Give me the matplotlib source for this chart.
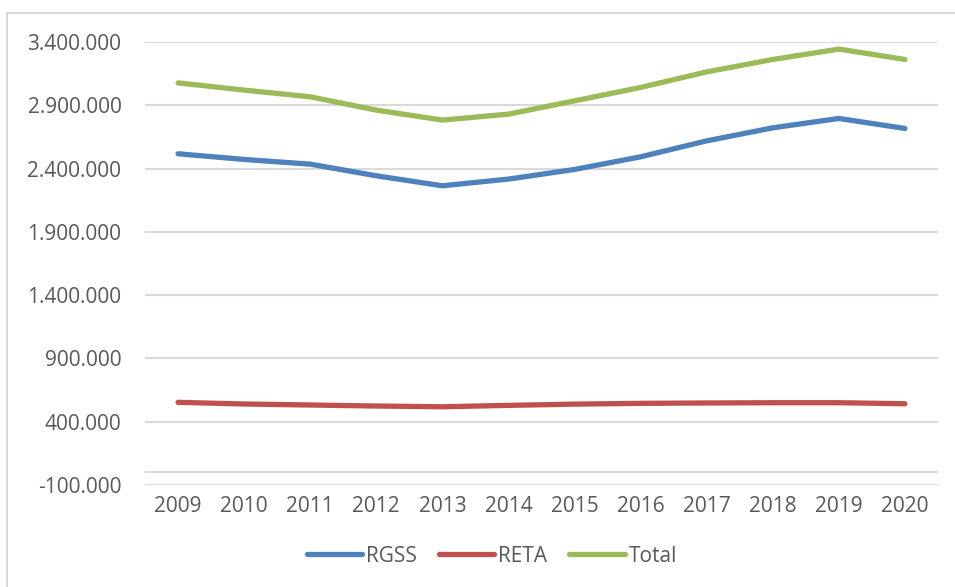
import matplotlib
matplotlib.use("Agg")
import matplotlib.pyplot as plt
from matplotlib.patches import Rectangle
from matplotlib.ticker import FuncFormatter, MultipleLocator

years = ["2009", "2010", "2011", "2012", "2013", "2014", "2015", "2016", "2017", "2018", "2019", "2020"]
rgss = [2517000, 2472000, 2435000, 2343000, 2264000, 2317000, 2393000, 2493000, 2619000, 2722000, 2796000, 2717000]
reta = [553000, 540000, 532000, 524000, 518000, 529000, 539000, 545000, 548000, 550000, 550000, 542000]
total = [3077000, 3020000, 2967000, 2862000, 2783000, 2830000, 2935000, 3041000, 3164000, 3262000, 3344000, 3262000]
series_names = ["RGSS", "RETA", "Total"]
colors = ["#4F81BD", "#C0504D", "#9BBB59"]

plt.rcParams['font.family'] = ['Open Sans', 'DejaVu Sans']
txt = "#595959"
grid = "#d9d9d9"

W, H = 955, 587
fig = plt.figure(figsize=(W / 100, H / 100), dpi=100)
fig.patch.set_facecolor("white")

# chart border (extends beyond right/bottom of image)
fig.add_artist(Rectangle((7 / W, -0.05), 1.1, 1 - 13 / H + 0.05, transform=fig.transFigure,
                         fill=False, edgecolor=grid, linewidth=1.5))

ax = fig.add_axes([145 / W, (H - 485) / H, (938 - 145) / W, (485 - 42) / H])
x = list(range(len(years)))
for vals, name, c in zip([rgss, reta, total], series_names, colors):
    ax.plot(x, vals, color=c, lw=3.8, solid_capstyle="round", solid_joinstyle="round",
            label=name, zorder=3)

ax.set_xlim(-0.5, len(years) - 0.5)
ax.set_ylim(-100000, 3400000)
ax.yaxis.set_major_locator(MultipleLocator(500000))
ax.set_yticks([-100000 + 500000 * i for i in range(8)])
ax.yaxis.set_major_formatter(FuncFormatter(lambda v, p: f"{int(round(v)):,}".replace(",", ".")))
ax.set_xticks(x)
ax.set_xticklabels(years)
ax.tick_params(axis="both", length=0, labelsize=15, colors=txt)
ax.tick_params(axis="y", pad=17)
ax.tick_params(axis="x", pad=8)
ax.grid(axis="y", color=grid, lw=1.5, zorder=0)
ax.axhline(0, color=grid, lw=1.5, zorder=1)
for s in ax.spines.values():
    s.set_visible(False)

leg = fig.legend(loc="center", bbox_to_anchor=(492 / W, 1 - 556 / H), ncol=3, frameon=False,
                 fontsize=15, handlelength=2.65, handletextpad=0.2, columnspacing=1.05,
                 labelcolor=txt)
for l in leg.get_lines():
    l.set_linewidth(3.8)
    l.set_solid_capstyle("round")

fig.savefig("out.png", dpi=100)
